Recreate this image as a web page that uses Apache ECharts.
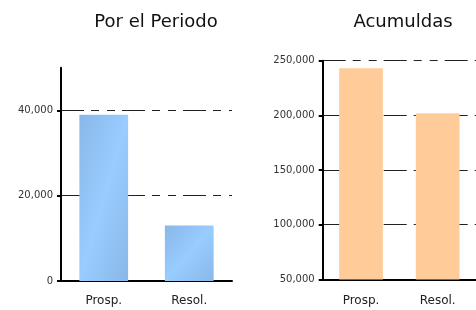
<!DOCTYPE html>
<html>
<head>
<meta charset="utf-8">
<script src="https://cdn.jsdelivr.net/npm/echarts@6/dist/echarts.min.js"></script>
<style>
  html, body { margin: 0; padding: 0; background: #fff; }
  #main { width: 476px; height: 310px; }
</style>
</head>
<body>
<div id="main"></div>
<script>
// datos
var categories = ['Prosp.', 'Resol.'];
var periodoValues = [39000, 13000];
var acumuladasValues = [243000, 202000];
var periodoTicks = [0, 20000, 40000];

var chart = echarts.init(document.getElementById('main'), null, { renderer: 'canvas' });

var font = 'DejaVu Sans';
var dash = [23, 7, 8, 8, 8, 7];

function fmt(v) {
  return echarts.format.addCommas(v);
}

var option = {
  backgroundColor: '#fff',
  animation: false,
  graphic: [
    {
      type: 'text', x: 156, y: 22.5,
      style: { text: 'Por el Periodo', fontFamily: font, fontSize: 18, fill: '#111', align: 'center', verticalAlign: 'middle' }
    },
    {
      type: 'text', x: 403, y: 22.5,
      style: { text: 'Acumuldas', fontFamily: font, fontSize: 18, fill: '#111', align: 'center', verticalAlign: 'middle' }
    }
  ],
  grid: [
    { left: 61, top: 67.7, width: 171, height: 213.3 },
    { left: 322.7, top: 60.7, width: 162.6, height: 218.7 }
  ],
  xAxis: [
    {
      type: 'category', gridIndex: 0, data: categories,
      axisLine: { lineStyle: { color: '#000', width: 2 } },
      axisTick: { length: 4, lineStyle: { color: '#000', width: 2 } },
      axisLabel: { fontFamily: font, fontSize: 12, color: '#222', margin: 14 }
    },
    {
      type: 'category', gridIndex: 1, data: categories,
      axisLine: { lineStyle: { color: '#000', width: 2 } },
      axisTick: { length: 4, lineStyle: { color: '#000', width: 2 } },
      axisLabel: { fontFamily: font, fontSize: 12, color: '#222', margin: 15 }
    }
  ],
  yAxis: [
    {
      type: 'value', gridIndex: 0, min: 0, max: 50000, interval: 10000,
      axisLine: { show: true, lineStyle: { color: '#000', width: 2 } },
      axisTick: { show: true, length: 4, customValues: periodoTicks, lineStyle: { color: '#000', width: 2 } },
      axisLabel: { fontFamily: font, fontSize: 10, color: '#333', margin: 8, customValues: periodoTicks, formatter: fmt },
      splitLine: { show: true, lineStyle: { color: '#222', width: 1, type: dash } }
    },
    {
      type: 'value', gridIndex: 1, min: 50000, max: 250000, interval: 50000,
      axisLine: { show: true, lineStyle: { color: '#000', width: 2 } },
      axisTick: { show: true, length: 4, lineStyle: { color: '#000', width: 2 } },
      axisLabel: { fontFamily: font, fontSize: 10, color: '#333', margin: 8, formatter: fmt },
      splitLine: { show: true, lineStyle: { color: '#222', width: 1, type: dash } }
    }
  ],
  series: [
    {
      name: 'Por el Periodo', type: 'bar', xAxisIndex: 0, yAxisIndex: 0,
      data: periodoValues, barWidth: '57%',
      itemStyle: { color: '#99CCFF' }
    },
    {
      name: 'Acumuldas', type: 'bar', xAxisIndex: 1, yAxisIndex: 1,
      data: acumuladasValues, barWidth: '57%',
      itemStyle: { color: '#FFCC99' }
    }
  ]
};

chart.setOption(option);

// degradado diagonal como en Excel: isolineas de esquina a esquina
var barW = 171 / categories.length * 0.57;
var base = chart.convertToPixel({ xAxisIndex: 0, yAxisIndex: 0 }, [0, 0])[1];
var periodoData = periodoValues.map(function (v, i) {
  var top = chart.convertToPixel({ xAxisIndex: 0, yAxisIndex: 0 }, [i, v])[1];
  var h = base - top, w = barW;
  var s = h * h + w * w;
  return {
    value: v,
    itemStyle: {
      color: new echarts.graphic.LinearGradient(0, 0, 2 * h * h / s, 2 * w * w / s, [
        { offset: 0, color: '#89B7E8' },
        { offset: 0.5, color: '#99CCFF' },
        { offset: 1, color: '#89B7E8' }
      ])
    }
  };
});
chart.setOption({ series: [{ data: periodoData }, {}] });
</script>
</body>
</html>
